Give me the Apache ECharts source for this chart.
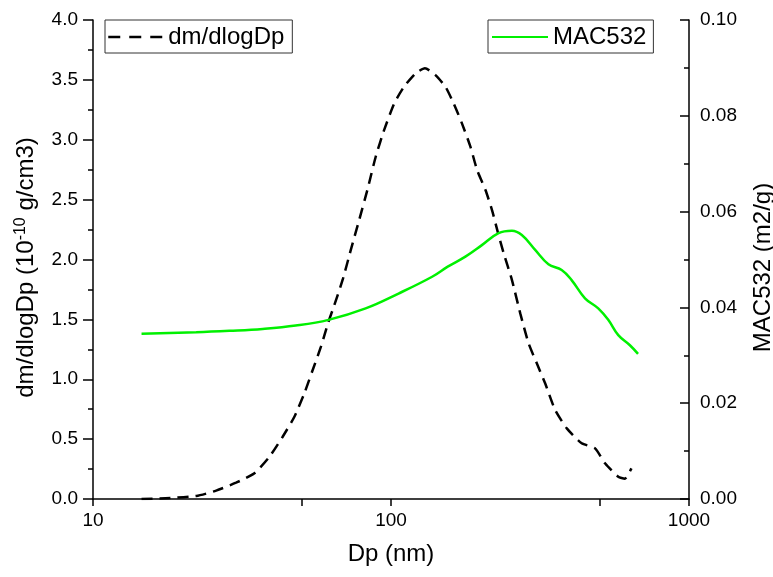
<!DOCTYPE html>
<html>
<head>
<meta charset="utf-8">
<script src="https://cdn.jsdelivr.net/npm/echarts@6/dist/echarts.min.js"></script>
<style>html,body{margin:0;padding:0;background:#fff;overflow:hidden}#c{width:773px;height:577px}</style>
</head>
<body>
<div id="c"></div>
<script>
// Data
const dmX = [14.55, 17.5, 22.2, 25.9, 30.2, 34.8, 39.1, 43.3, 47.4, 51.2, 54.6, 58.2, 61.7, 63.7, 68.8, 73.3, 78.2, 83.3, 88.9, 94.8, 102.4, 110.4, 121, 130, 141, 152.5, 162.5, 173, 184.8, 194.5, 207.5, 218.4, 228.7, 239, 254.5, 271.5, 289.5, 308.5, 329, 355.5, 389, 436.5, 484, 522.6, 579, 609, 641];
const dmY = [0.0, 0.006, 0.025, 0.07, 0.136, 0.215, 0.353, 0.52, 0.687, 0.883, 1.077, 1.272, 1.48, 1.578, 1.829, 2.08, 2.33, 2.58, 2.86, 3.08, 3.30, 3.44, 3.555, 3.597, 3.54, 3.44, 3.30, 3.137, 2.94, 2.747, 2.58, 2.41, 2.22, 2.05, 1.83, 1.55, 1.30, 1.133, 0.966, 0.743, 0.59, 0.465, 0.423, 0.298, 0.186, 0.17, 0.256];
const macX = [14.55, 22.2, 28.7, 37.1, 47.9, 61.7, 82.2, 106, 137.4, 155, 177.7, 201.8, 229.6, 254.5, 274.8, 304.6, 337.5, 373.9, 403.7, 447.7, 496, 535.8, 579, 633.4, 674.5];
const macY = [0.0345, 0.0348, 0.0351, 0.0355, 0.0362, 0.0374, 0.0398, 0.0429, 0.0464, 0.0485, 0.0506, 0.053, 0.0555, 0.056, 0.0551, 0.052, 0.049, 0.0478, 0.0457, 0.0419, 0.0398, 0.0374, 0.0342, 0.0321, 0.0303];
const xTicks = [10, 50, 100, 500, 1000];
const leftName = 'dm/dlogDp (10{sup|-10} g/cm3)';
const rightName = 'MAC532 (m2/g)';
const xName = 'Dp (nm)';

const dmData = dmX.map((x, i) => [x, dmY[i]]);
const macData = macX.map((x, i) => [x, macY[i]]);

const FONT = 'Liberation Sans, Arial, sans-serif';
const GREEN = '#00f000';
const chart = echarts.init(document.getElementById('c'), null, {renderer: 'canvas', width: 773, height: 577});
const legendCommon = {
  orient: 'horizontal', borderColor: '#333', borderWidth: 1,
  itemHeight: 14, itemGap: 6,
  itemStyle: {opacity: 0},
  textStyle: {fontSize: 24, fontFamily: FONT, color: '#000'}
};
chart.setOption({
  backgroundColor: '#fff',
  animation: false,
  textStyle: {fontFamily: FONT, color: '#000'},
  grid: {left: 93, right: 84, top: 20, bottom: 78, containLabel: false, outerBoundsMode: 'none'},
  legend: [
    Object.assign({}, legendCommon, {data: ['dm/dlogDp'], left: 105, top: 20, padding: [5, 8, 4, 2],
      itemWidth: 55, lineStyle: {type: [12, 9], width: 2.5}}),
    Object.assign({}, legendCommon, {data: ['MAC532'], left: 488, top: 20, padding: [5, 7, 4, 3],
      itemWidth: 56})
  ],
  xAxis: {
    type: 'log', logBase: 10, min: 10, max: 1000,
    name: xName, nameLocation: 'middle', nameGap: 43,
    nameTextStyle: {fontSize: 24, fontFamily: FONT, color: '#000'},
    axisLine: {lineStyle: {color: '#000', width: 1.5}},
    axisTick: {show: true, inside: false, length: 7, customValues: xTicks, lineStyle: {color: '#000', width: 1.5}},
    axisLabel: {fontSize: 19, color: '#000', fontFamily: FONT, margin: 12, formatter: v => String(v)},
    splitLine: {show: false},
    minorTick: {show: false}
  },
  yAxis: [
    {
      type: 'value', min: 0, max: 4, interval: 0.5, position: 'left',
      name: leftName, nameLocation: 'middle', nameGap: 54, nameRotate: 90,
      nameTextStyle: {fontSize: 24, fontFamily: FONT, color: '#000', padding: [0, 16, 0, 0],
        rich: {sup: {fontSize: 16, verticalAlign: 'top', padding: [0, 0, 10, 0], fontFamily: FONT, color: '#000'}}},
      axisLine: {show: true, lineStyle: {color: '#000', width: 1.5}},
      axisTick: {show: true, inside: false, length: 10, lineStyle: {color: '#000', width: 1.5}},
      minorTick: {show: true, splitNumber: 2, length: 5, lineStyle: {color: '#000', width: 1.5}},
      axisLabel: {fontSize: 19, color: '#000', fontFamily: FONT, margin: 15, formatter: v => v.toFixed(1)},
      splitLine: {show: false}
    },
    {
      type: 'value', min: 0, max: 0.1, interval: 0.02, position: 'right',
      name: rightName, nameLocation: 'middle', nameGap: 62, nameRotate: 90,
      nameTextStyle: {fontSize: 24, fontFamily: FONT, color: '#000', padding: [0, 16, 0, 0]},
      axisLine: {show: true, lineStyle: {color: '#000', width: 1.5}},
      axisTick: {show: true, inside: true, length: 9, lineStyle: {color: '#000', width: 1.5}},
      minorTick: {show: true, splitNumber: 2, length: 5, lineStyle: {color: '#000', width: 1.5}},
      axisLabel: {fontSize: 19, color: '#000', fontFamily: FONT, margin: 11, formatter: v => v.toFixed(2)},
      splitLine: {show: false}
    }
  ],
  series: [
    {
      name: 'dm/dlogDp', type: 'line', yAxisIndex: 0, data: dmData,
      symbol: 'none', smooth: 0.2,
      lineStyle: {color: '#000', width: 2.5, type: [11, 7]},
      itemStyle: {color: '#000'}
    },
    {
      name: 'MAC532', type: 'line', yAxisIndex: 1, data: macData,
      symbol: 'none', smooth: 0.4,
      lineStyle: {color: GREEN, width: 2.5},
      itemStyle: {color: GREEN}
    }
  ]
});
</script>
</body>
</html>
